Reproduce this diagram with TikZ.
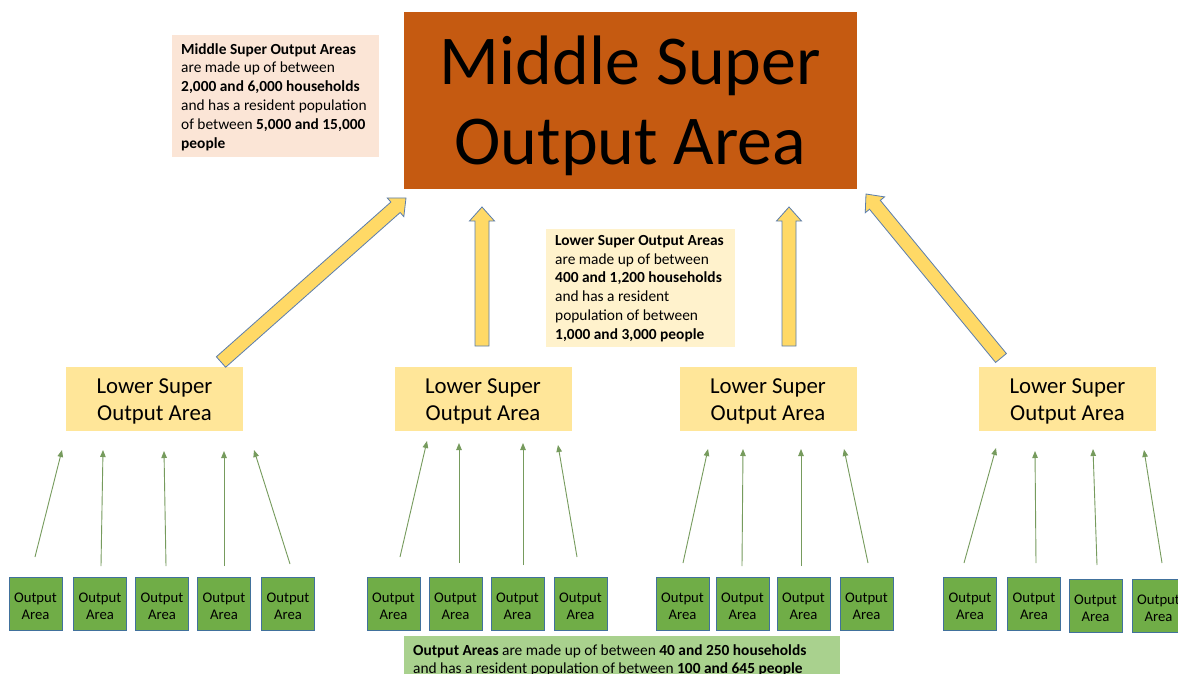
\documentclass[tikz,border=0pt]{standalone}
\usepackage{fontspec}
\setmainfont{Carlito}
\usetikzlibrary{calc,arrows.meta}
\definecolor{msoafill}{HTML}{C55A11}
\definecolor{peach}{HTML}{FBE5D6}
\definecolor{paleyellow}{HTML}{FFF2CC}
\definecolor{palegreen}{HTML}{A9D18E}
\definecolor{lsoafill}{HTML}{FFE699}
\definecolor{blockfill}{HTML}{FFD966}
\definecolor{blockline}{HTML}{5A7DAD}
\definecolor{oafill}{HTML}{70AD47}
\definecolor{oaline}{HTML}{41719C}
\definecolor{arrgreen}{HTML}{548235}
\newcommand{\blockarrow}[2]{%
  \coordinate (h-#1) at ($(#2)!14pt!(#1)$);
  \draw[blockarr] ($(#1)!7pt!90:(#2)$) -- ($(h-#1)!7pt!90:(#2)$) -- ($(h-#1)!12.5pt!90:(#2)$) -- (#2)
    -- ($(h-#1)!12.5pt!-90:(#2)$) -- ($(h-#1)!7pt!-90:(#2)$) -- ($(#1)!7pt!-90:(#2)$) -- cycle;}
\begin{document}
\begin{tikzpicture}[x=1pt,y=-1pt,
  infobox/.style={inner sep=0pt, align=left, font=\fontsize{15.4}{18.8}\selectfont, text=black},
  lsoa/.style={fill=lsoafill, minimum width=177pt, minimum height=64pt, inner sep=0pt},
  lsoatext/.style={inner sep=0pt, align=center, font=\fontsize{22.8}{26.5}\selectfont},
  oa/.style={fill=oafill, draw=oaline, line width=0.8pt, minimum width=53pt, minimum height=53pt, inner sep=0pt},
  oatext/.style={inner sep=0pt, align=center, font=\fontsize{14.7}{17}\selectfont},
  blockarr/.style={fill=blockfill, draw=blockline, line width=0.8pt, line join=miter},
  garr/.style={draw=arrgreen!80, line width=0.9pt, -{Triangle[length=7pt,width=5.5pt]}}]
\useasboundingbox (0,0) rectangle (1178,674);
\fill[white] (0,0) rectangle (1178,674);

% top node
\node[fill=msoafill, minimum width=453pt, minimum height=177pt] (msoa) at (630.5,100.5) {};
\node[inner sep=0pt, align=center, font=\fontsize{70}{80}\selectfont] (msoatitle) at (630.5,105.5) {Middle Super\\Output Area};

% info boxes
\node[fill=peach, minimum width=207pt, minimum height=122pt] (msoainfo) at (275.5,96) {};
\node[infobox, anchor=west] (msoatext) at (181,97) {\textbf{Middle Super Output Areas}\\are made up of between\\\textbf{2,000 and 6,000 households}\\and has a resident population\\of between \textbf{5,000 and 15,000}\\\textbf{people}};

\node[fill=paleyellow, minimum width=189pt, minimum height=118pt] (lsoainfo) at (640.5,288) {};
\node[infobox, anchor=west] (lsoatext) at (555,288.5) {\textbf{Lower Super Output Areas}\\are made up of between\\\textbf{400 and 1,200 households}\\and has a resident\\population of between\\\textbf{1,000 and 3,000 people}};

\node[fill=palegreen, minimum width=436pt, minimum height=60pt, anchor=north west] (oainfo) at (404,636) {};
\node[infobox, anchor=north west] (oatext) at (413,644) {\textbf{Output Areas} are made up of between \textbf{40 and 250 households}\\and has a resident population of between \textbf{100 and 645 people}};

% LSOA nodes
\foreach \n/\x in {1/154.5, 2/483, 3/768, 4/1067.5}{
  \node[lsoa] (l\n) at (\x,399) {};
  \node[lsoatext] (lt\n) at (\x,401.5) {Lower Super\\Output Area};
}

% block arrows
\coordinate (b1s) at (221,362); \coordinate (b1e) at (406,198);
\coordinate (b2s) at (482,346); \coordinate (b2e) at (482,207);
\coordinate (b3s) at (789,346); \coordinate (b3e) at (789,207);
\coordinate (b4s) at (1001,358); \coordinate (b4e) at (866,194);
\blockarrow{b1s}{b1e}
\blockarrow{b2s}{b2e}
\blockarrow{b3s}{b3e}
\blockarrow{b4s}{b4e}

% output area nodes
\foreach \n/\x/\y in {1/35.5/604, 2/100/604, 3/162/604, 4/224/604, 5/288/604,
  6/393.5/604, 7/455.5/604, 8/517.5/604, 9/580.5/604,
  10/682.5/604, 11/742.5/604, 12/803.5/604, 13/866.5/604,
  14/970/604, 15/1034/604, 16/1095.5/606, 17/1158.5/606}
{
  \node[oa] (oa\n) at (\x,\y) {};
  \node[oatext] (oat\n) at (\x,\y+2.5) {Output\\Area};
}

% green arrows
\foreach \n/\sx/\sy/\ex/\ey in {1/35/557/62/450, 2/101/566/103/450, 3/166/566/164/451, 4/224/566/224/451, 5/290/564/254/450,
  6/400/557/427/441, 7/459/563/459/443, 8/523/565/523/443, 9/577/557/558/445,
  10/683/563/708/449, 11/742/566/743/449, 12/801/566/801/449, 13/868/563/844/449,
  14/964/563/996/448, 15/1036/563/1035/451, 16/1097/565/1093/449, 17/1162/563/1144/450}
{
  \coordinate (gs\n) at (\sx,\sy);
  \coordinate (ge\n) at (\ex,\ey);
  \draw[garr] (gs\n) -- (ge\n);
}
\end{tikzpicture}
\end{document}
